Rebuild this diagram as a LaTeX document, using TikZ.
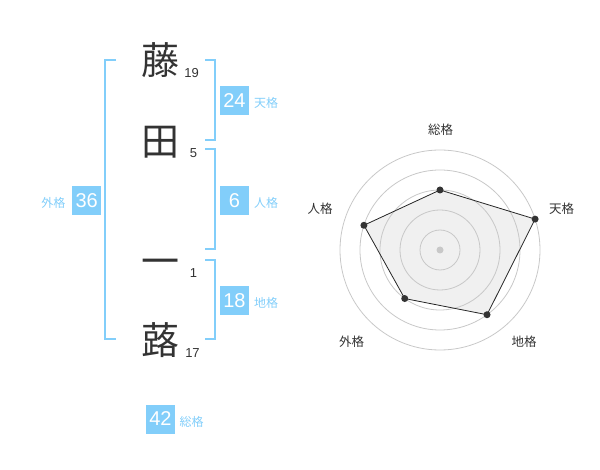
\documentclass[tikz,border=0pt]{standalone}
\usepackage{fontspec}
\setmainfont{Liberation Sans}
\newfontfamily\cjk{Noto Sans CJK JP}
\definecolor{sky}{RGB}{130,206,250}
\definecolor{ink}{RGB}{51,51,51}
\definecolor{ringc}{RGB}{200,200,200}
\definecolor{areac}{RGB}{240,240,240}
\begin{document}
\begin{tikzpicture}[x=1pt,y=-1pt,
  kanji/.style={font=\cjk\fontsize{38}{38}\selectfont, text=ink, inner sep=0pt},
  strokes/.style={font=\fontsize{13}{13}\selectfont, text=ink, inner sep=0pt},
  numbox/.style={fill=sky, text=white, minimum width=29pt, minimum height=29pt, inner sep=0pt, font=\fontsize{20}{20}\selectfont},
  note/.style={font=\cjk\fontsize{12}{12}\selectfont, text=sky, inner sep=0pt},
  bracket/.style={draw=sky, line width=2pt},
  ring/.style={draw=ringc, line width=0.8pt},
  axislabel/.style={font=\cjk\fontsize{12.5}{12.5}\selectfont, text=ink, inner sep=0pt},
  area/.style={fill=areac},
  outline/.style={draw=black!85, line width=0.8pt, line join=round},
  dot/.style={fill=ink}
]
\useasboundingbox (0,0) rectangle (600,470);

% characters
\node[kanji] (k1) at (160,60) {藤};
\node[kanji] (k2) at (160,142) {田};
\node[kanji] (k3) at (160,267) {一};
\node[kanji] (k4) at (160,340) {蕗};
\node[strokes] (s1) at (191.7,72.7) {19};
\node[strokes] (s2) at (193.5,152.7) {5};
\node[strokes] (s3) at (193.5,272.7) {1};
\node[strokes] (s4) at (192.5,352.7) {17};

% brackets
\draw[bracket] (116,60) -- (105,60) -- (105,339.5) -- (116,339.5);
\draw[bracket] (205,60) -- (214.5,60) -- (214.5,140) -- (205,140);
\draw[bracket] (205,149.5) -- (214.5,149.5) -- (214.5,249.5) -- (205,249.5);
\draw[bracket] (205,260) -- (214.5,260) -- (214.5,339.5) -- (205,339.5);

% values
\node[numbox] (ten) at (234.5,100.5) {24};
\node[note, anchor=west] (tenl) at (254,103) {天格};
\node[numbox] (jin) at (234.5,200.5) {6};
\node[note, anchor=west] (jinl) at (254,203) {人格};
\node[numbox] (chi) at (234.5,300.5) {18};
\node[note, anchor=west] (chil) at (254,303) {地格};
\node[numbox] (gai) at (86.7,200.5) {36};
\node[note, anchor=east] (gail) at (65.5,203) {外格};
\node[numbox] (sou) at (160.5,419) {42};
\node[note, anchor=west] (soul) at (179.5,422) {総格};

% radar chart
\coordinate (c) at (440,250);
\path (c) ++(-90:60) coordinate (p1);
\path (c) ++(-18:100) coordinate (p2);
\path (c) ++(54:80) coordinate (p3);
\path (c) ++(126:60) coordinate (p4);
\path (c) ++(198:80) coordinate (p5);
\fill[area] (p1) -- (p2) -- (p3) -- (p4) -- (p5) -- cycle;
\foreach \r in {20,40,60,80,100} \draw[ring] (c) circle[radius=\r];
\fill[ringc] (c) circle[radius=3.5];
\draw[outline] (p1) -- (p2) -- (p3) -- (p4) -- (p5) -- cycle;
\foreach \p in {p1,p2,p3,p4,p5} \fill[dot] (\p) circle[radius=3.5];

\node[axislabel] (a1) at (440.7,130) {総格};
\node[axislabel] (a2) at (561.7,208.3) {天格};
\node[axislabel] (a3) at (524,341.7) {地格};
\node[axislabel] (a4) at (351.7,341.7) {外格};
\node[axislabel] (a5) at (320,208.3) {人格};
\end{tikzpicture}
\end{document}
